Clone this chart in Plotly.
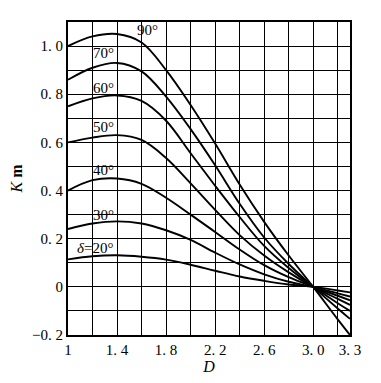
import plotly.graph_objects as go

# Data
D = [1.0, 1.2, 1.4, 1.6, 1.8, 2.0, 2.2, 2.4, 2.6, 2.8, 3.0, 3.2, 3.3]
delta_labels = ["90°", "70°", "60°", "50°", "40°", "30°", "δ=20°"]
K90 = [1.00, 1.04, 1.05, 1.015, 0.90, 0.755, 0.595, 0.425, 0.27, 0.13, 0.0, -0.135, -0.20]
K70 = [0.86, 0.91, 0.93, 0.895, 0.79, 0.655, 0.505, 0.345, 0.205, 0.095, 0.0, -0.09, -0.133]
K60 = [0.75, 0.783, 0.795, 0.772, 0.69, 0.555, 0.42, 0.29, 0.17, 0.078, 0.0, -0.068, -0.10]
K50 = [0.60, 0.62, 0.63, 0.61, 0.535, 0.43, 0.32, 0.215, 0.13, 0.06, 0.0, -0.05, -0.075]
K40 = [0.40, 0.443, 0.45, 0.428, 0.37, 0.30, 0.228, 0.155, 0.09, 0.04, 0.0, -0.037, -0.056]
K30 = [0.24, 0.263, 0.272, 0.263, 0.235, 0.195, 0.142, 0.093, 0.052, 0.021, 0.0, -0.027, -0.04]
K20 = [0.114, 0.127, 0.131, 0.125, 0.113, 0.092, 0.067, 0.043, 0.025, 0.01, 0.0, -0.015, -0.023]

x_tickvals = [1.0, 1.4, 1.8, 2.2, 2.6, 3.0, 3.3]
x_ticktext = ["1", "1. 4", "1. 8", "2. 2", "2. 6", "3. 0", "3. 3"]
y_tickvals = [-0.2, 0.0, 0.2, 0.4, 0.6, 0.8, 1.0]
y_ticktext = ["−0. 2", "0", "0. 2", "0. 4", "0. 6", "0. 8", "1. 0"]

series = [K90, K70, K60, K50, K40, K30, K20]

FONT = "Liberation Serif"

fig = go.Figure()
for ys in series:
    fig.add_trace(go.Scatter(x=D, y=ys, mode="lines",
                             line=dict(color="black", width=1.9, shape="spline", smoothing=1.0),
                             showlegend=False, hoverinfo="skip"))

# curve labels
label_pos = [(1.65, 1.065), (1.29, 0.97), (1.29, 0.827), (1.29, 0.663),
             (1.29, 0.487), (1.29, 0.30), (1.22, 0.163)]
for txt, (lx, ly) in zip(delta_labels, label_pos):
    if txt.startswith("δ"):
        txt = "<i>δ</i>=20°"
    fig.add_annotation(x=lx, y=ly, text=txt, showarrow=False,
                       font=dict(family=FONT, size=15, color="black"))

axis_common = dict(showline=True, linecolor="black", linewidth=2, mirror=True,
                   showgrid=True, gridcolor="black", gridwidth=1.4, automargin=False,
                   zeroline=False, ticks="", tickfont=dict(family=FONT, size=15, color="black"))

fig.update_xaxes(range=[1.0, 3.3], tickmode="array", tickvals=x_tickvals, ticktext=x_ticktext,
                 minor=dict(tickmode="linear", tick0=1.0, dtick=0.2, showgrid=True,
                            gridcolor="black", gridwidth=1.4, ticks=""),
                 title=dict(text="<i>D</i>", font=dict(family=FONT, size=16, color="black"), standoff=0),
                 **axis_common)
fig.update_yaxes(range=[-0.2, 1.1], tickmode="array", tickvals=y_tickvals, ticktext=y_ticktext,
                 minor=dict(tickmode="linear", tick0=0.0, dtick=0.1, showgrid=True,
                            gridcolor="black", gridwidth=1.4, ticks=""),
                 title=dict(text="<i>K</i> <b>m</b>", font=dict(family=FONT, size=16, color="black"), standoff=8),
                 **axis_common)

fig.update_layout(width=373, height=375, margin=dict(l=60, r=31, t=14, b=48),
                  plot_bgcolor="white", paper_bgcolor="white")

fig.write_html("out.html")
